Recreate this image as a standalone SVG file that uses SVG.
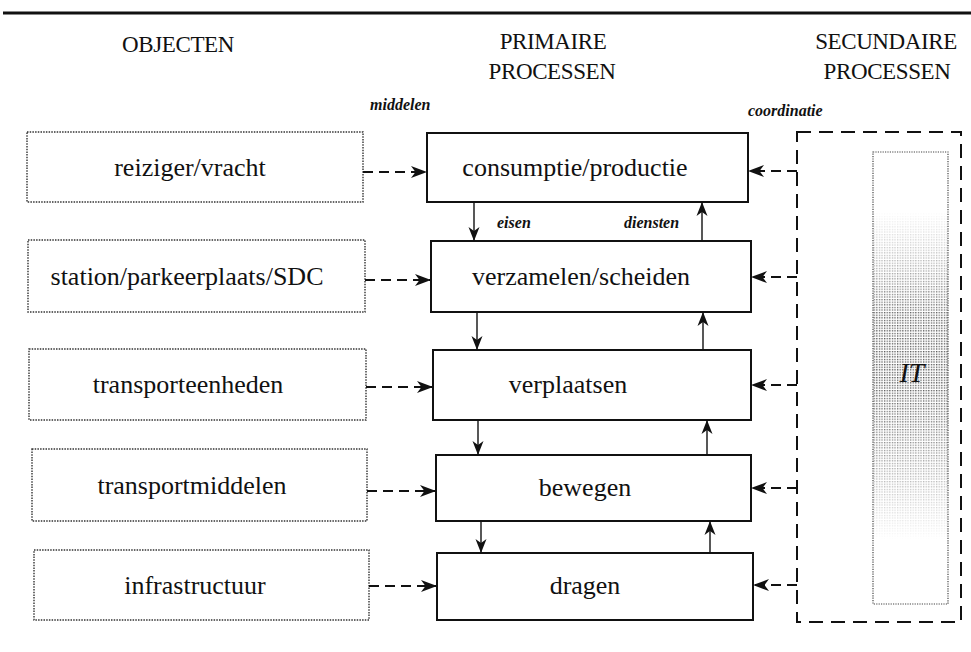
<svg xmlns="http://www.w3.org/2000/svg" width="971" height="652" viewBox="0 0 971 652">
<style>
.hdr{font-family:"Liberation Serif","Times New Roman",serif;font-size:23px;letter-spacing:-0.4px;fill:#111;text-anchor:middle}
.lbl{font-family:"Liberation Serif","Times New Roman",serif;font-size:26px;fill:#111;text-anchor:middle}
.it{font-family:"Liberation Serif","Times New Roman",serif;font-style:italic;font-weight:bold;font-size:16px;fill:#111}
.obj{fill:none;stroke:#333;stroke-width:1.4;stroke-dasharray:1.5 1.2}
.proc{fill:#fff;stroke:#111;stroke-width:2}
.dash{fill:none;stroke:#111;stroke-width:1.8;stroke-dasharray:10 6}
.solid{fill:none;stroke:#111;stroke-width:1.4}
</style>
<defs>
<marker id="ah" markerUnits="userSpaceOnUse" markerWidth="17" markerHeight="13" refX="16" refY="6.5" orient="auto">
<path d="M0,0.5 L16,6.5 L0,12.5 L4.5,6.5 z" fill="#111"/>
</marker>
<marker id="av" markerUnits="userSpaceOnUse" markerWidth="15" markerHeight="12" refX="14" refY="6" orient="auto">
<path d="M0,0.5 L14,6 L0,11.5 L4,6 z" fill="#111"/>
</marker>
<pattern id="dots" width="2.6" height="2.6" patternUnits="userSpaceOnUse">
<rect x="0" y="0" width="1.3" height="1.3" fill="#222"/>
</pattern>
<linearGradient id="fadeg" x1="0" y1="0" x2="0" y2="1">
<stop offset="0" stop-color="#000"/>
<stop offset="0.13" stop-color="#000"/>
<stop offset="0.22" stop-color="#555"/>
<stop offset="0.36" stop-color="#eee"/>
<stop offset="0.5" stop-color="#fff"/>
<stop offset="0.62" stop-color="#bbb"/>
<stop offset="0.75" stop-color="#555"/>
<stop offset="0.86" stop-color="#000"/>
<stop offset="1" stop-color="#000"/>
</linearGradient>
<mask id="fade" maskUnits="userSpaceOnUse" x="873" y="152" width="75" height="452">
<rect x="873" y="152" width="75" height="452" fill="url(#fadeg)"/>
</mask>
</defs>

<line x1="3" y1="13" x2="971" y2="13" stroke="#111" stroke-width="2.8"/>

<g id="headers">
<text class="hdr" x="178" y="52">OBJECTEN</text>
<text class="hdr" x="553" y="49">PRIMAIRE</text>
<text class="hdr" x="552" y="79">PROCESSEN</text>
<text class="hdr" x="886" y="49">SECUNDAIRE</text>
<text class="hdr" x="887" y="79">PROCESSEN</text>
<text class="it" x="370" y="110">middelen</text>
<text class="it" x="748" y="116">coordinatie</text>
</g>

<g id="obj-reiziger"><rect class="obj" x="27" y="132" width="336" height="70"/><text class="lbl" x="190" y="176">reiziger/vracht</text></g>
<g id="obj-station"><rect class="obj" x="28" y="240" width="337" height="72"/><text class="lbl" x="187" y="285">station/parkeerplaats/SDC</text></g>
<g id="obj-transporteenheden"><rect class="obj" x="29" y="349" width="337" height="71"/><text class="lbl" x="188" y="393">transporteenheden</text></g>
<g id="obj-transportmiddelen"><rect class="obj" x="32" y="449" width="335" height="72"/><text class="lbl" x="192" y="494">transportmiddelen</text></g>
<g id="obj-infrastructuur"><rect class="obj" x="34" y="550" width="335" height="70"/><text class="lbl" x="195" y="594">infrastructuur</text></g>

<g id="p-consumptie"><rect class="proc" x="427" y="133" width="321" height="69"/><text class="lbl" x="575" y="176">consumptie/productie</text></g>
<g id="p-verzamelen"><rect class="proc" x="431" y="241" width="320" height="71"/><text class="lbl" x="581" y="285">verzamelen/scheiden</text></g>
<g id="p-verplaatsen"><rect class="proc" x="433" y="350" width="318" height="70"/><text class="lbl" x="568" y="393">verplaatsen</text></g>
<g id="p-bewegen"><rect class="proc" x="436" y="455" width="315" height="66"/><text class="lbl" x="585" y="496">bewegen</text></g>
<g id="p-dragen"><rect class="proc" x="437" y="553" width="316" height="67"/><text class="lbl" x="585" y="594">dragen</text></g>

<g id="secundair">
<rect x="797" y="132" width="164" height="490" fill="none" stroke="#111" stroke-width="2" stroke-dasharray="14 8"/>
<g id="it-block">
<rect x="873" y="152" width="75" height="452" fill="url(#dots)" mask="url(#fade)" opacity="0.8"/>
<rect x="873" y="152" width="75" height="452" fill="none" stroke="#444" stroke-width="1.2" stroke-dasharray="1.2 1.2"/>
<text x="912" y="382" text-anchor="middle" font-family="'Liberation Serif','Times New Roman',serif" font-style="italic" font-size="28" fill="#111">IT</text>
</g>
</g>

<g id="connectors">
<line class="dash" x1="363" y1="172" x2="427" y2="172" marker-end="url(#ah)"/>
<line class="dash" x1="365" y1="280" x2="431" y2="280" marker-end="url(#ah)"/>
<line class="dash" x1="366" y1="387" x2="433" y2="387" marker-end="url(#ah)"/>
<line class="dash" x1="367" y1="491" x2="436" y2="491" marker-end="url(#ah)"/>
<line class="dash" x1="369" y1="586" x2="437" y2="586" marker-end="url(#ah)"/>

<line class="dash" x1="797" y1="171" x2="748" y2="171" marker-end="url(#ah)"/>
<line class="dash" x1="797" y1="277" x2="751" y2="277" marker-end="url(#ah)"/>
<line class="dash" x1="797" y1="385" x2="751" y2="385" marker-end="url(#ah)"/>
<line class="dash" x1="797" y1="488" x2="751" y2="488" marker-end="url(#ah)"/>
<line class="dash" x1="797" y1="585" x2="753" y2="585" marker-end="url(#ah)"/>

<line class="solid" x1="474" y1="202" x2="474" y2="241" marker-end="url(#av)"/>
<line class="solid" x1="702" y1="241" x2="702" y2="202" marker-end="url(#av)"/>
<line class="solid" x1="477" y1="312" x2="477" y2="350" marker-end="url(#av)"/>
<line class="solid" x1="703" y1="350" x2="703" y2="312" marker-end="url(#av)"/>
<line class="solid" x1="478" y1="420" x2="478" y2="455" marker-end="url(#av)"/>
<line class="solid" x1="707" y1="455" x2="707" y2="420" marker-end="url(#av)"/>
<line class="solid" x1="481" y1="521" x2="481" y2="553" marker-end="url(#av)"/>
<line class="solid" x1="710" y1="553" x2="710" y2="521" marker-end="url(#av)"/>
</g>
<text class="it" x="497" y="228">eisen</text>
<text class="it" x="624" y="228">diensten</text>
</svg>
